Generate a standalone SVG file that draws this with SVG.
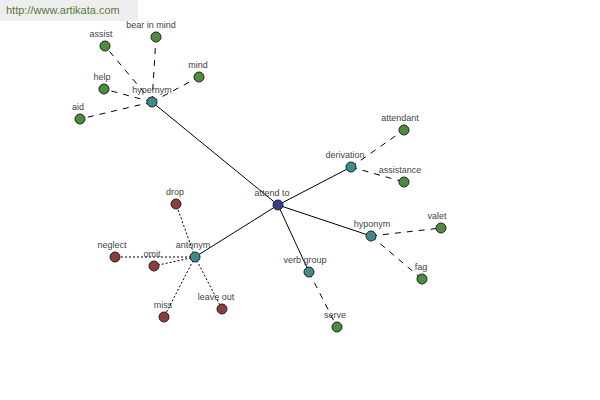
<svg xmlns="http://www.w3.org/2000/svg" width="600" height="400" viewBox="0 0 600 400">
<style>
text{font-family:"Liberation Sans",Arial,sans-serif;font-size:9px;fill:#444;text-anchor:middle}
.n{stroke:#222;stroke-width:1}
.g{fill:#4c8c3c}.t{fill:#3c8c8c}.r{fill:#8c3c3c}.b{fill:#3c3c8c}
.s{stroke:#000;stroke-width:1;fill:none}
.d{stroke:#000;stroke-width:1;fill:none;stroke-dasharray:6 6}
.o{stroke:#000;stroke-width:1;fill:none;stroke-dasharray:2 2}
</style>
<rect width="600" height="400" fill="#fff"/>
<rect x="0" y="0" width="138" height="21" fill="#eeeeee"/>
<text x="6" y="14" style="font-size:11px;fill:#5a7a3a;text-anchor:start">http://www.artikata.com</text>
<g id="connectors">
<line class="s" x1="278" y1="205" x2="152" y2="102"/>
<line class="s" x1="278" y1="205" x2="351" y2="167"/>
<line class="s" x1="278" y1="205" x2="371" y2="236"/>
<line class="s" x1="278" y1="205" x2="309" y2="272"/>
<line class="s" x1="278" y1="205" x2="195" y2="257"/>
<line class="d" x1="152" y1="102" x2="105" y2="46"/>
<line class="d" x1="152" y1="102" x2="156" y2="37"/>
<line class="d" x1="152" y1="102" x2="199" y2="77"/>
<line class="d" x1="152" y1="102" x2="104" y2="89"/>
<line class="d" x1="152" y1="102" x2="80" y2="119"/>
<line class="d" x1="351" y1="167" x2="404" y2="130"/>
<line class="d" x1="351" y1="167" x2="404" y2="182"/>
<line class="d" x1="371" y1="236" x2="441" y2="228"/>
<line class="d" x1="371" y1="236" x2="422" y2="279"/>
<line class="d" x1="309" y1="272" x2="337" y2="327"/>
<line class="o" x1="195" y1="257" x2="176" y2="204"/>
<line class="o" x1="195" y1="257" x2="115" y2="257"/>
<line class="o" x1="195" y1="257" x2="154" y2="266"/>
<line class="o" x1="195" y1="257" x2="164" y2="317"/>
<line class="o" x1="195" y1="257" x2="222" y2="309"/>
</g>
<g id="n-assist"><circle class="n g" cx="105" cy="46" r="5"/><text x="101" y="37">assist</text></g>
<g id="n-bear-in-mind"><circle class="n g" cx="156" cy="37" r="5"/><text x="151" y="28">bear in mind</text></g>
<g id="n-mind"><circle class="n g" cx="199" cy="77" r="5"/><text x="198" y="68">mind</text></g>
<g id="n-help"><circle class="n g" cx="104" cy="89" r="5"/><text x="102" y="80">help</text></g>
<g id="n-aid"><circle class="n g" cx="80" cy="119" r="5"/><text x="78" y="110">aid</text></g>
<g id="n-hypernym"><circle class="n t" cx="152" cy="102" r="5"/><text x="152" y="93">hypernym</text></g>
<g id="n-attendant"><circle class="n g" cx="404" cy="130" r="5"/><text x="400" y="121">attendant</text></g>
<g id="n-assistance"><circle class="n g" cx="404" cy="182" r="5"/><text x="400" y="173">assistance</text></g>
<g id="n-derivation"><circle class="n t" cx="351" cy="167" r="5"/><text x="345" y="158">derivation</text></g>
<g id="n-valet"><circle class="n g" cx="441" cy="228" r="5"/><text x="437" y="219">valet</text></g>
<g id="n-fag"><circle class="n g" cx="422" cy="279" r="5"/><text x="421" y="270">fag</text></g>
<g id="n-hyponym"><circle class="n t" cx="371" cy="236" r="5"/><text x="372" y="227">hyponym</text></g>
<g id="n-serve"><circle class="n g" cx="337" cy="327" r="5"/><text x="335" y="318">serve</text></g>
<g id="n-verb-group"><circle class="n t" cx="309" cy="272" r="5"/><text x="305" y="263">verb group</text></g>
<g id="n-drop"><circle class="n r" cx="176" cy="204" r="5"/><text x="175" y="195">drop</text></g>
<g id="n-neglect"><circle class="n r" cx="115" cy="257" r="5"/><text x="112" y="248">neglect</text></g>
<g id="n-omit"><circle class="n r" cx="154" cy="266" r="5"/><text x="152" y="257">omit</text></g>
<g id="n-miss"><circle class="n r" cx="164" cy="317" r="5"/><text x="163" y="308">miss</text></g>
<g id="n-leave-out"><circle class="n r" cx="222" cy="309" r="5"/><text x="216" y="300">leave out</text></g>
<g id="n-antonym"><circle class="n t" cx="195" cy="257" r="5"/><text x="193" y="248">antonym</text></g>
<g id="n-attend-to"><circle class="n b" cx="278" cy="205" r="5"/><text x="272" y="196">attend to</text></g>
</svg>
